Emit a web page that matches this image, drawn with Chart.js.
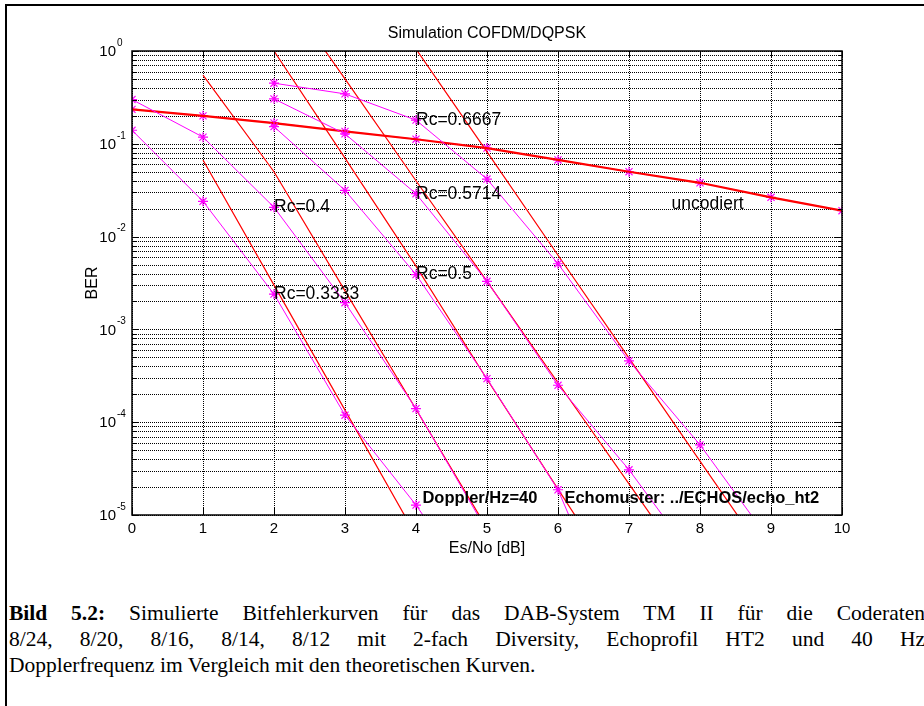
<!DOCTYPE html>
<html>
<head>
<meta charset="utf-8">
<script src="https://cdn.jsdelivr.net/npm/chart.js@4.4.0/dist/chart.umd.min.js"></script>
<style>
  html, body { margin: 0; padding: 0; background: #fff; width: 924px; height: 706px; overflow: hidden; }
  #frame { position: absolute; left: 5px; top: 4px; width: 1000px; height: 800px; border-left: 2px solid #000; border-top: 2px solid #000; }
  #wrap { position: absolute; left: 0; top: 0; width: 924px; height: 580px; }
  .cap { position: absolute; left: 9px; font-family: "Liberation Serif", "Times New Roman", serif; font-size: 21.5px; color: #000; line-height: 26px; white-space: nowrap; }
  .just { width: 916px; white-space: normal; text-align: justify; text-align-last: justify; }
</style>
</head>
<body>
<div id="frame"></div>
<div id="wrap"><canvas id="chart" width="924" height="580"></canvas></div>
<div class="cap just" style="top:600px"><b>Bild 5.2:</b> Simulierte Bitfehlerkurven für das DAB-System TM II für die Coderaten</div>
<div class="cap just" style="top:626px">8/24, 8/20, 8/16, 8/14, 8/12 mit 2-fach Diversity, Echoprofil HT2 und 40 Hz</div>
<div class="cap" style="top:652px">Dopplerfrequenz im Vergleich mit den theoretischen Kurven.</div>
<script>
// Es/No [dB]
const esno = [0, 1, 2, 3, 4, 5, 6, 7, 8, 9, 10];

// simulierte Kurven (magenta, mit Sternen)
const simUncod  = [0.235, 0.2, 0.168, 0.136, 0.112, 0.09, 0.067, 0.05, 0.038, 0.0265, 0.019];
const simR03333 = [0.14, 0.024, 0.0024, 1.19e-4, 1.28e-5, 1e-6, null, null, null, null, null];
const simR04    = [0.3, 0.118, 0.0207, 0.00194, 1.4e-4, 6.7e-6, null, null, null, null, null];
const simR05    = [null, null, 0.153, 0.0315, 0.0039, 2.95e-4, 1.87e-5, 3e-7, null, null, null];
const simR05714 = [null, null, 0.305, 0.128, 0.029, 0.0033, 2.5e-4, 3.07e-5, 2.8e-6, null, null];
const simR06667 = [null, null, 0.45, 0.345, 0.18, 0.0417, 0.0051, 4.57e-4, 5.7e-5, 5.1e-6, null];

// theoretische Kurven (rot)
const thUncod  = [0.235, 0.2, 0.167, 0.136, 0.112, 0.09, 0.067, 0.05, 0.038, 0.0265, 0.019];
const thR03333 = [null, 0.067, 0.003, 1.35e-4, 6e-6, null, null, null, null, null, null];
const thR04    = [null, 0.55, 0.05, 0.0026, 1.38e-4, 7.2e-6, null, null, null, null, null];
const thR05    = [null, null, 1.0, 0.07, 0.0048, 2.9e-4, 1.9e-5, 1.26e-6, null, null, null];
const thR05714 = [null, null, 6.1, 0.5, 0.04, 0.0033, 2.66e-4, 2.16e-5, 1.76e-6, null, null];
const thR06667 = [null, null, null, null, 1.05, 0.082, 0.0063, 4.9e-4, 3.8e-5, 3e-6, null];

// Achsen
const xTicks = [0, 1, 2, 3, 4, 5, 6, 7, 8, 9, 10];
const yDecades = [1e-5, 1e-4, 1e-3, 1e-2, 1e-1, 1];
const yExpLabels = ['-5', '-4', '-3', '-2', '-1', '0'];

// Beschriftungen im Diagramm
const notes = [
  { text: 'Rc=0.6667', x: 4, y: 0.178 },
  { text: 'Rc=0.5714', x: 4, y: 0.029 },
  { text: 'Rc=0.5', x: 4, y: 0.0039 },
  { text: 'Rc=0.4', x: 2, y: 0.0207 },
  { text: 'Rc=0.3333', x: 2, y: 0.0024 },
  { text: 'uncodiert', x: 7.6, y: 0.0226 },
  { text: 'Doppler/Hz=40', x: 4.09, y: 1.5e-5, bold: true },
  { text: 'Echomuster: ../ECHOS/echo_ht2', x: 6.09, y: 1.5e-5, bold: true }
];

const MAG = '#ff00ff';
const RED = '#ff0000';
const SANS = '"Liberation Sans", Arial, sans-serif';

function pts(arr) {
  return esno.map((x, i) => ({ x: x, y: arr[i] }));
}

function simSet(arr) {
  return {
    data: pts(arr), borderColor: MAG, backgroundColor: MAG, borderWidth: 1,
    pointStyle: 'star', pointRadius: 5, pointBorderColor: MAG, pointBorderWidth: 1.2,
    spanGaps: false, tension: 0
  };
}

function thSet(arr, w) {
  return { data: pts(arr), borderColor: RED, borderWidth: w || 1.2, pointRadius: 0, spanGaps: false, tension: 0 };
}

// Gitter, Rahmen, Ticks und Texte
const figPlugin = {
  id: 'fig',
  beforeDatasetsDraw(chart) {
    const { ctx, chartArea: a, scales: { x, y } } = chart;
    ctx.save();
    ctx.lineWidth = 1;
    ctx.setLineDash([1, 1]);
    ctx.strokeStyle = '#000';
    // horizontale Linien (log)
    yDecades.forEach((d, k) => {
      const mults = k < yDecades.length - 1 ? [1, 2, 3, 4, 5, 6, 7, 8, 9] : [1];
      mults.forEach(m => {
        const py = Math.round(y.getPixelForValue(d * m)) + 0.5;
        ctx.beginPath(); ctx.moveTo(a.left, py); ctx.lineTo(a.right, py); ctx.stroke();
      });
    });
    // vertikale Linien
    xTicks.forEach(v => {
      const px = Math.round(x.getPixelForValue(v)) + 0.5;
      ctx.beginPath(); ctx.moveTo(px, a.top); ctx.lineTo(px, a.bottom); ctx.stroke();
    });
    ctx.restore();
  },
  afterDatasetsDraw(chart) {
    const { ctx, chartArea: a, scales: { x, y } } = chart;
    ctx.save();
    ctx.setLineDash([]);
    ctx.strokeStyle = '#000';
    ctx.lineWidth = 1.5;
    ctx.strokeRect(a.left, a.top, a.right - a.left, a.bottom - a.top);

    // Ticks innen
    ctx.lineWidth = 1;
    yDecades.forEach((d, k) => {
      const mults = k < yDecades.length - 1 ? [1, 2, 3, 4, 5, 6, 7, 8, 9] : [1];
      mults.forEach(m => {
        const py = Math.round(y.getPixelForValue(d * m)) + 0.5;
        const len = m === 1 ? 7 : 4;
        ctx.beginPath();
        ctx.moveTo(a.left, py); ctx.lineTo(a.left + len, py);
        ctx.moveTo(a.right, py); ctx.lineTo(a.right - len, py);
        ctx.stroke();
      });
    });
    xTicks.forEach(v => {
      const px = Math.round(x.getPixelForValue(v)) + 0.5;
      ctx.beginPath();
      ctx.moveTo(px, a.bottom); ctx.lineTo(px, a.bottom - 7);
      ctx.moveTo(px, a.top); ctx.lineTo(px, a.top + 7);
      ctx.stroke();
    });

    ctx.fillStyle = '#000';
    // x-Tickbeschriftung
    ctx.font = '15px ' + SANS;
    ctx.textAlign = 'center';
    ctx.textBaseline = 'middle';
    xTicks.forEach(v => ctx.fillText(String(v), x.getPixelForValue(v), a.bottom + 14));

    // y-Tickbeschriftung 10^n
    yDecades.forEach((d, k) => {
      const py = y.getPixelForValue(d);
      ctx.font = '15px ' + SANS;
      ctx.textAlign = 'right';
      ctx.fillText('10', a.left - 16, py + 1);
      ctx.font = '10px ' + SANS;
      ctx.textAlign = 'left';
      ctx.fillText(yExpLabels[k], a.left - 15, py - 8);
    });

    // Titel und Achsentitel
    ctx.font = '16px ' + SANS;
    ctx.textAlign = 'center';
    ctx.fillText('Simulation COFDM/DQPSK', (a.left + a.right) / 2, 34);
    ctx.fillText('Es/No [dB]', (a.left + a.right) / 2, a.bottom + 34);
    ctx.save();
    ctx.translate(93, (a.top + a.bottom) / 2);
    ctx.rotate(-Math.PI / 2);
    ctx.fillText('BER', 0, 0);
    ctx.restore();

    // Texte im Diagramm
    ctx.textAlign = 'left';
    notes.forEach(n => {
      ctx.font = (n.bold ? 'bold 16.5px ' : '17.5px ') + SANS;
      ctx.fillText(n.text, x.getPixelForValue(n.x), y.getPixelForValue(n.y));
    });
    ctx.restore();
  }
};

new Chart(document.getElementById('chart').getContext('2d'), {
  type: 'line',
  data: {
    datasets: [
      simSet(simR03333), simSet(simR04), simSet(simR05), simSet(simR05714), simSet(simR06667),
      thSet(thR03333), thSet(thR04), thSet(thR05), thSet(thR05714), thSet(thR06667),
      thSet(thUncod, 2.2), simSet(simUncod)
    ]
  },
  options: {
    responsive: false,
    animation: false,
    devicePixelRatio: 1,
    layout: { padding: { left: 132, right: 82, top: 51, bottom: 65 } },
    plugins: { legend: { display: false }, tooltip: { enabled: false } },
    scales: {
      x: { type: 'linear', min: 0, max: 10, display: false },
      y: { type: 'logarithmic', min: 1e-5, max: 1, display: false }
    }
  },
  plugins: [figPlugin]
});
</script>
</body>
</html>
